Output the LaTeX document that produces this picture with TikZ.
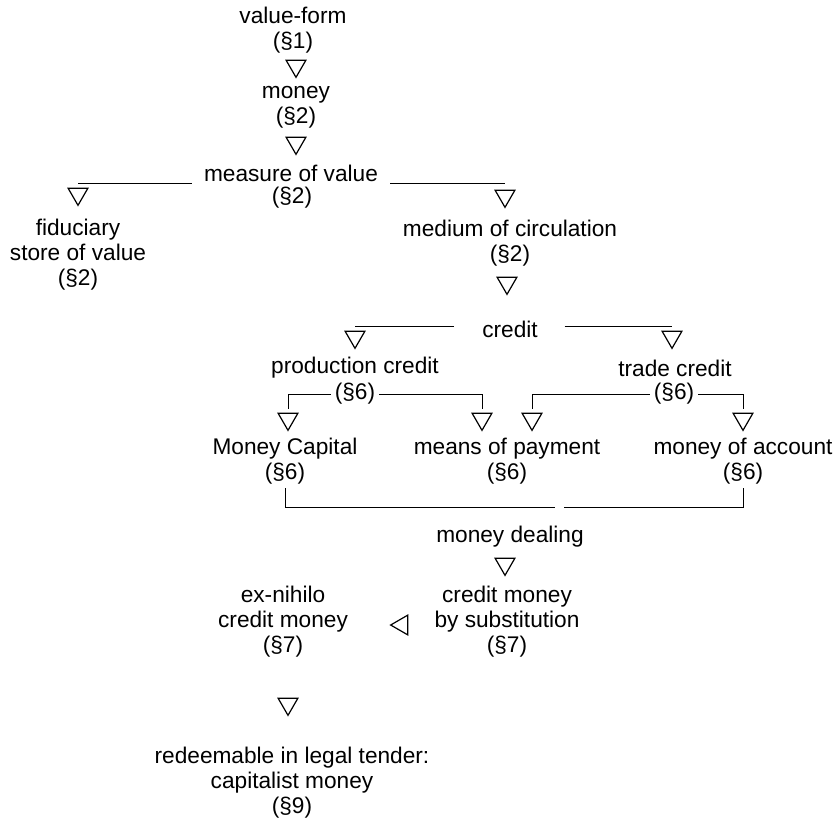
\documentclass[tikz,border=0pt]{standalone}
\usepackage{fontspec}
\setmainfont{Liberation Sans}
\usetikzlibrary{shapes.geometric}
\tikzstyle{lbl}=[align=center, inner sep=0pt, font=\fontsize{17}{18.75}\selectfont]
\tikzstyle{tri}=[draw, regular polygon, regular polygon sides=3, shape border rotate=180, minimum size=17pt, inner sep=0pt, line width=0.9pt]
\tikzstyle{trileft}=[tri, shape border rotate=90]
\tikzstyle{link}=[line width=0.6pt]

\begin{document}
\begin{tikzpicture}[x=0.75pt,y=-0.75pt]
  \useasboundingbox (0,0) rectangle (840,819);
  % main chain
  \node [lbl] (vf) at (293,30) {value-form\\(§1)};
  \node [tri] (t1) at (296,66) {};
  \node [lbl] (mo) at (296,107) {money\\(§2)};
  \node [tri] (t2) at (296,143) {};
  \node [lbl] (mv) at (291,173) {measure of value};
  \node [lbl] (mvs) at (292,198) {(§2)};
  \node [tri] (tl) at (78,194) {};
  \node [lbl] (fd) at (78,255) {fiduciary\\store of value\\(§2)};
  \node [tri] (tr) at (505,196) {};
  \node [lbl] (mc) at (510,243) {medium of circulation\\(§2)};
  \node [tri] (t3) at (507,283) {};
  \node [lbl] (cr) at (510,329) {credit};
  % credit branches
  \node [tri] (tpc) at (355,337) {};
  \node [tri] (ttc) at (672,337) {};
  \node [lbl] (pc) at (355,368) {production credit};
  \node [lbl] (pcs) at (355,394) {(§6)};
  \node [lbl] (tc) at (675,368) {trade credit};
  \node [lbl] (tcs) at (674,394) {(§6)};
  \node [tri] (mcT) at (288,419) {};
  \node [tri] (mpT1) at (482,419) {};
  \node [tri] (mpT2) at (532,419) {};
  \node [tri] (maT) at (743,419) {};
  \node [lbl] (mcap) at (285,461) {Money Capital\\(§6)};
  \node [lbl] (mp) at (507,461) {means of payment\\(§6)};
  \node [lbl] (ma) at (743,461) {money of account\\(§6)};
  % money dealing and below
  \node [lbl] (md) at (510,537) {money dealing};
  \node [tri] (t4) at (505,564) {};
  \node [lbl] (cm) at (507,622) {credit money\\by substitution\\(§7)};
  \node [trileft] (t6) at (402,625) {};
  \node [lbl] (en) at (283,622) {ex-nihilo\\credit money\\(§7)};
  \node [tri] (t5) at (288,704) {};
  \node [lbl] (rd) at (292,783) {redeemable in legal tender:\\capitalist money\\(§9)};

  \draw [link] ([xshift=-9pt,yshift=-1.5pt]mv.south west) coordinate (m0) -- (m0 -| tl.center);
  \draw [link] ([xshift=9pt,yshift=-1.5pt]mv.south east) coordinate (m1) -- (m1 -| tr.center);
  \draw [link] ([xshift=-21pt,yshift=2pt]cr.west) coordinate (c0) -- (c0 -| tpc.center);
  \draw [link] ([xshift=20pt,yshift=2pt]cr.east) coordinate (c1) -- (c1 -| ttc.center);
  \draw [link] ([xshift=-3pt]pcs.west) -- (pcs.west -| mcT.center) -- ([yshift=3pt]mcT.north);
  \draw [link] ([xshift=3pt]pcs.east) -- (pcs.east -| mpT1.center) -- ([yshift=3pt]mpT1.north);
  \draw [link] ([xshift=-3pt]tcs.west) -- (tcs.west -| mpT2.center) -- ([yshift=3pt]mpT2.north);
  \draw [link] ([xshift=3pt]tcs.east) -- (tcs.east -| maT.center) -- ([yshift=3pt]maT.north);
  \coordinate (g0) at ([xshift=-22pt]md.east);
  \coordinate (g1) at ([xshift=-15pt]md.east);
  \draw [link] ([yshift=-3pt]mcap.south) coordinate (b0) -- ++(0,19) coordinate (b1) -- (b1 -| g0);
  \draw [link] ([yshift=-3pt]ma.south) -- ++(0,19) coordinate (b2) -- (b2 -| g1);
\end{tikzpicture}
\end{document}
